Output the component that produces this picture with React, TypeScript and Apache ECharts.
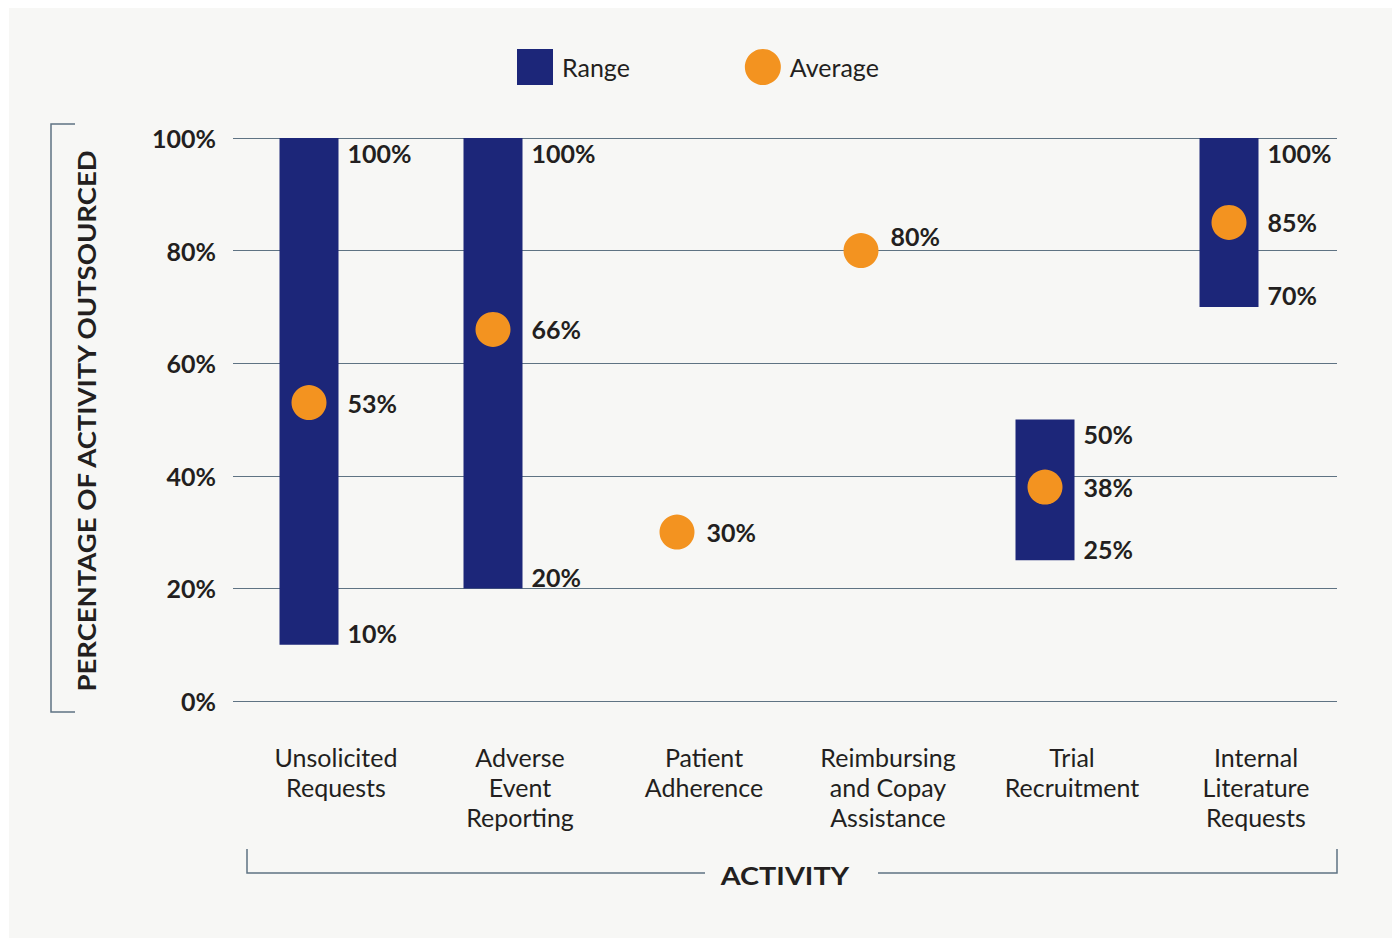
import React, { useEffect, useRef } from "react";
import * as echarts from "echarts";

const categories = [
  "Unsolicited\nRequests",
  "Adverse\nEvent\nReporting",
  "Patient\nAdherence",
  "Reimbursing\nand Copay\nAssistance",
  "Trial\nRecruitment",
  "Internal\nLiterature\nRequests",
];
const rangeLow: (number | null)[] = [10, 20, null, null, 25, 70];
const rangeHigh: (number | null)[] = [100, 100, null, null, 50, 100];
const averages = [53, 66, 30, 80, 38, 85];
const yMin = 0;
const yMax = 100;
const yStep = 20;

const FONT = "Lato";
const TEXT = "#231f20";
const LINE = "#5f7383";
const NAVY = "#1c2679";
const ORANGE = "#f39320";
const BAR_W = 59;
const SHIFT = -16;

export default function App() {
  const ref = useRef<HTMLDivElement>(null);
  useEffect(() => {
    document.body.style.margin = "0";
    document.body.style.overflow = "hidden";
    const chart = echarts.init(ref.current!, undefined, { renderer: "svg" });
    const rangeData = categories
      .map((_, i) => [i, rangeLow[i], rangeHigh[i]])
      .filter((d) => d[1] != null);
    const avgData = averages.map((v, i) => {
      const hasRange = rangeLow[i] != null;
      const onGrid = v % yStep === 0;
      return {
        value: [i, v],
        label: {
          distance: hasRange ? 21 : 12,
          offset: onGrid ? [0, -15] : [0, 0],
        },
      };
    });
    const labelStyle = {
      fontFamily: FONT,
      fontSize: 25,
      fontWeight: "bold" as const,
      color: TEXT,
    };
    chart.setOption({
      animation: false,
      backgroundColor: "#ffffff",
      grid: { left: 233, right: 55, top: 138, bottom: 237 },
      legend: {
        left: 517,
        top: 49,
        padding: 0,
        itemWidth: 36,
        itemHeight: 36,
        itemGap: 115,
        textStyle: {
          fontFamily: FONT,
          fontSize: 25,
          color: TEXT,
          padding: [0, 0, 0, 4],
        },
        data: [
          { name: "Range", icon: "rect" },
          { name: "Average", icon: "circle" },
        ],
      },
      xAxis: {
        type: "category",
        data: categories,
        boundaryGap: true,
        axisLine: { show: false },
        axisTick: { show: false },
        axisLabel: {
          interval: 0,
          margin: 41,
          fontFamily: FONT,
          fontSize: 25,
          lineHeight: 30,
          color: TEXT,
          padding: [0, 0, 0, 22],
        },
      },
      yAxis: {
        type: "value",
        min: yMin,
        max: yMax,
        interval: yStep,
        axisLine: { show: false },
        axisTick: { show: false },
        axisLabel: {
          ...labelStyle,
          margin: 17,
          formatter: "{value}%",
        },
        splitLine: { lineStyle: { color: LINE, width: 1 } },
      },
      graphic: [
        {
          type: "rect",
          z: -10,
          silent: true,
          shape: { x: 9, y: 8, width: 1392, height: 940 },
          style: { fill: "#f7f7f5" },
        },
        {
          type: "polyline",
          shape: { points: [[75, 124], [51, 124], [51, 712], [75, 712]] },
          style: { stroke: LINE, lineWidth: 1.5, fill: "none" },
        },
        {
          type: "text",
          x: 86,
          y: 421,
          rotation: Math.PI / 2,
          scaleX: 1.1,
          style: {
            text: "PERCENTAGE OF ACTIVITY OUTSOURCED",
            fill: TEXT,
            font: `bold 25px ${FONT}`,
            align: "center",
            verticalAlign: "middle",
          },
        },
        {
          type: "polyline",
          shape: { points: [[247, 849], [247, 873], [705, 873]] },
          style: { stroke: LINE, lineWidth: 1.5, fill: "none" },
        },
        {
          type: "polyline",
          shape: { points: [[878, 873], [1337, 873], [1337, 849]] },
          style: { stroke: LINE, lineWidth: 1.5, fill: "none" },
        },
        {
          type: "text",
          x: 785,
          y: 875,
          scaleX: 1.15,
          style: {
            text: "ACTIVITY",
            fill: TEXT,
            font: `bold 25px ${FONT}`,
            align: "center",
            verticalAlign: "middle",
          },
        },
      ],
      series: [
        {
          name: "Range",
          type: "custom",
          z: 2,
          itemStyle: { color: NAVY },
          data: rangeData,
          renderItem: (params: any, api: any) => {
            const idx = api.value(0);
            const low = api.value(1);
            const high = api.value(2);
            const top = api.coord([idx, high]);
            const bot = api.coord([idx, low]);
            const x = top[0] + SHIFT - BAR_W / 2;
            const tx = x + BAR_W + 9;
            return {
              type: "group",
              children: [
                {
                  type: "rect",
                  shape: { x, y: top[1], width: BAR_W, height: bot[1] - top[1] },
                  style: { fill: NAVY },
                },
                {
                  type: "text",
                  x: tx,
                  y: top[1] + 2,
                  style: {
                    text: high + "%",
                    fill: TEXT,
                    font: `bold 25px ${FONT}`,
                    align: "left",
                    verticalAlign: "top",
                  },
                },
                {
                  type: "text",
                  x: tx,
                  y: bot[1] + 1,
                  style: {
                    text: low + "%",
                    fill: TEXT,
                    font: `bold 25px ${FONT}`,
                    align: "left",
                    verticalAlign: "bottom",
                  },
                },
              ],
            };
          },
        },
        {
          name: "Average",
          type: "scatter",
          z: 3,
          symbol: "circle",
          symbolSize: 35,
          symbolOffset: [SHIFT, 0],
          itemStyle: { color: ORANGE, opacity: 1 },
          label: {
            show: true,
            position: "right",
            ...labelStyle,
            formatter: (p: any) => p.value[1] + "%",
          },
          data: avgData,
        },
      ],
    });
    return () => chart.dispose();
  }, []);
  return <div ref={ref} style={{ width: 1392, height: 938 }} />;
}
